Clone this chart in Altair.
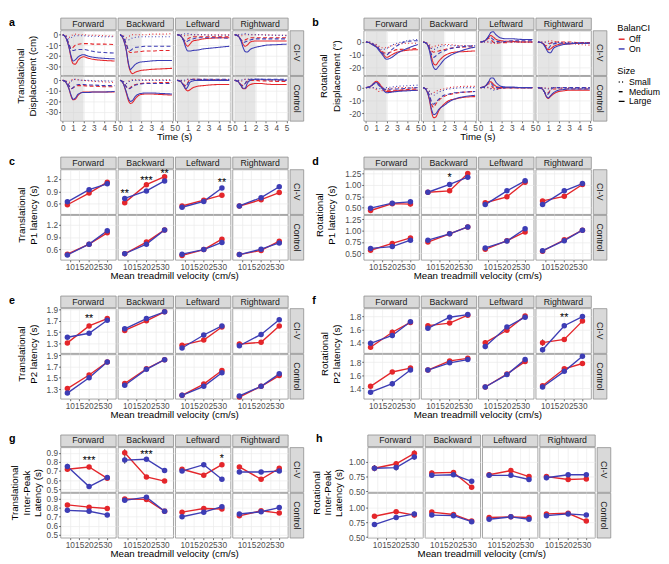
import altair as alt
import pandas as pd

FONT = "Liberation Sans"
RED = "#e4262b"
BLUE = "#3d3db5"
GRID = "#ebebeb"
BORDER = "#8c8c8c"
STRIP_FILL = "#d9d9d9"
SHADE = "#cfcfcf"

DIRS = ["Forward", "Backward", "Leftward", "Rightward"]
GROUPS = ["CI-V", "Control"]
CONDS = ["Off", "On"]
SIZES = ["Small", "Medium", "Large"]

TIME_S = [0, 0.3, 0.6, 0.8, 1.0, 1.2, 1.5, 2.0, 2.5, 3.0, 4.0, 5.0]
TIME_TICKS = [0, 1, 2, 3, 4, 5]
VELOCITY = [8.7, 20.3, 30.0]
VEL_TICKS = [10, 15, 20, 25, 30]
SHADE_WINDOW = [0, 2]

# ---- panel a: translational displacement (cm); per cond: (Small, Medium, Large)
trans_disp = {
    ("CI-V", "Forward"): {
        "Off": ([0, -1, -2.5, -1, 0, 0.5, 0, 0, -0.5, -0.5, -1, -1.5],
                [0, -2, -9, -13.5, -12, -10, -9, -8.5, -8.5, -9, -9, -9.5],
                [0, -3, -12, -22, -27.5, -28, -24, -21, -22.5, -23.5, -24.5, -25]),
        "On": ([0, -1.5, -4, -3, -1.5, -1, -1, -1, -1.5, -1.5, -2, -2],
               [0, -2, -9, -14, -15, -14.5, -14, -14, -15, -16, -17, -17.5],
               [0, -3, -12, -20, -25, -24, -21, -19, -20.5, -21.5, -22.5, -23])},
    ("CI-V", "Backward"): {
        "Off": ([0, -1, -3, -2, -0.5, 0, 0, 0, 0, 0.5, 0.5, 1],
                [0, -2, -9, -15, -17, -17, -16.5, -16, -15.5, -15.5, -15, -15],
                [0, -4, -15, -28, -35, -37, -35.5, -34, -33.5, -33, -32.5, -32]),
        "On": ([0, -1.5, -4.5, -5, -4, -3, -2.5, -2, -2, -2, -2, -2],
               [0, -2, -9, -14, -15, -13.5, -12, -11.5, -11, -11, -11, -11],
               [0, -4, -15, -27, -33, -31, -28, -26, -25.5, -25, -24.5, -24.5])},
    ("CI-V", "Leftward"): {
        "Off": ([0, 0, -1, -1, -0.5, 0, 0, 0, 0, 0, 0, 0],
                [0, -1, -5, -5.5, -4, -3, -2, -2, -2, -2, -2, -2],
                [0, -1, -5, -9, -11, -9, -6, -5, -4, -3.5, -3, -3]),
        "On": ([0, 0, 0.5, 1, 1, 0.5, 0, 0, 0, -0.5, -0.5, -0.5],
               [0, -1, -5, -7, -6, -5, -4, -3, -3, -3, -3, -3.5],
               [0, -1, -6, -12, -15.5, -15.5, -15, -14.5, -13.5, -13, -12, -11])},
    ("CI-V", "Rightward"): {
        "Off": ([0, 0, -1, -1, 0, 0, 0, 0, 0, 0, -0.5, -0.5],
                [0, -1, -5, -6, -5, -4, -3, -3, -3, -3, -3, -3],
                [0, -1, -5, -9, -11, -10, -7, -6, -6, -6, -6, -6]),
        "On": ([0, 0, 0, 1, 1, 0.5, 0, 0, 0, -0.5, -0.5, -1],
               [0, -1, -5, -7.5, -7, -6, -5, -4, -4, -4, -4, -4],
               [0, -1, -6, -12, -16, -16.5, -14, -12, -11, -10, -9.5, -9])},
    ("Control", "Forward"): {
        "Off": ([0, -0.5, -2, -0.5, 1, 1, 0.5, 0, -0.5, -1, -1.5, -2],
                [0, -1, -5, -8, -7, -6, -5, -5, -5.5, -5.5, -6, -6],
                [0, -2, -8, -15, -18.5, -18, -14, -11, -11, -11, -11, -11]),
        "On": ([0, -1, -3, -1, 0.5, 1, 0.5, 0, 0, -0.5, -0.5, -1],
               [0, -1, -5, -8, -7, -5, -4, -4, -4.5, -4.5, -5, -5],
               [0, -2, -8, -14, -18, -17, -13, -11.5, -11.5, -11, -11, -10.5])},
    ("Control", "Backward"): {
        "Off": ([0, -1, -3, -1, 0, 0.5, 0.5, 0.5, 0.5, 0.5, 0.5, 0.5],
                [0, -1.5, -6, -8, -7, -5, -4, -3, -2.5, -2.5, -2, -2],
                [0, -3, -12, -19, -22, -21, -17, -13.5, -13, -13, -13.5, -14]),
        "On": ([0, -1, -3, -1.5, -0.5, 0, 0, 0, 0, 0, 0, 0],
               [0, -1.5, -6, -8, -7.5, -6, -4.5, -3.5, -3, -3, -3, -3],
               [0, -3, -11, -17, -20, -19, -15, -12.5, -12, -12, -12.5, -13])},
    ("Control", "Leftward"): {
        "Off": ([0, 0, -1, 0, 1, 1, 1, 1, 1, 1, 0.5, 0.5],
                [0, -1, -4, -5, -2, 0.5, 1, 1, 0.5, 0.5, 0.5, 0.5],
                [0, -1, -5, -8.5, -10, -9, -7, -5.5, -5, -4.5, -4, -4]),
        "On": ([0, 0, 0, 0.5, 1, 1, 0.5, 0.5, 0.5, 0.5, 0.5, 0.5],
               [0, -1, -4.5, -6, -3, 0, 1, 1, 1, 1, 1, 1],
               [0, -1, -5, -8, -6, -2, -0.5, 0, 0, 0, 0, 0])},
    ("Control", "Rightward"): {
        "Off": ([0, 0, -1, 0, 1, 1, 1, 0.5, 0.5, 0.5, 0, 0],
                [0, -1, -4, -5, -3, -1, 0, 0, -0.5, -0.5, -1, -1],
                [0, -1, -5, -8, -8, -6, -4, -3, -3, -3.5, -4, -4]),
        "On": ([0, 0, 0, 1, 1, 1, 1, 1, 1, 1, 0.5, 0.5],
               [0, -1, -4.5, -5.5, -3, 0, 1, 1, 1, 1, 1, 1],
               [0, -1, -5, -7.5, -7.5, -3, 0, 1, 1, 0.5, 0.5, 0])},
}

# ---- panel b: rotational displacement (deg)
rot_disp = {
    ("CI-V", "Forward"): {
        "Off": ([0, 0, -1, -1.5, -2, -3, -4.5, -4.5, -3, -2, -1, -1],
                [0, -0.5, -1.5, -2.5, -3.5, -5, -7, -9, -7.5, -6, -5.5, -5],
                [0, -0.5, -2, -2.5, -3.5, -5, -8, -12, -10, -8, -6.5, -6]),
        "On": ([0, 0, -1, -1.5, -2.5, -4, -6, -5, -2.5, -1, 1, 2],
               [0, -0.5, -1.5, -2.5, -3.5, -5, -8, -10, -6, -3, 0.5, 1],
               [0, -0.5, -2, -3, -4, -6, -9, -13.5, -12, -9, -5, -2])},
    ("CI-V", "Backward"): {
        "Off": ([0, -0.5, -2, -4, -4, -3, -2.5, -2, -2, -2.5, -3, -3],
                [0, -1, -4, -7, -8, -7.5, -7, -6, -5, -4.5, -4, -4],
                [0, -1, -6, -12, -17, -18, -15, -11, -9, -8, -7.5, -7]),
        "On": ([0, -1, -3, -5, -6, -5, -4, -3, -3, -3, -3, -3],
               [0, -1, -5, -10, -12, -11, -9, -7, -5.5, -4.5, -3.5, -3],
               [0, -1, -7, -15, -20, -21.5, -19, -14, -11, -9, -6, -4])},
    ("CI-V", "Leftward"): {
        "Off": ([0, 0, 0, -0.5, -1, -1, -0.5, 0, 0, 0, 0, 0],
                [0, 0.5, 2, 3, 2, 0, -1, -0.5, -0.5, 0, 0, 0],
                [0, 0.5, 2, 4, 5, 4, 2, 1, 0.5, 0.5, 0, 0]),
        "On": ([0, 0, 0.5, 0.5, 0, -0.5, 0, 0, 0, 0, 0, 0],
               [0, 0.5, 2.5, 4, 3.5, 2, 0.5, 0, 0.5, 1, 1, 1],
               [0, 0.5, 2.5, 5, 7.5, 8, 5.5, 3, 2.5, 2.5, 2, 2])},
    ("CI-V", "Rightward"): {
        "Off": ([0, 0, 0, 0, 0.5, 1, 0.5, 0, -0.5, -1, -2, -2.5],
                [0, -0.5, -2, -3, -2, -1, 0, 0, 0, 0, -0.5, -0.5],
                [0, -0.5, -2, -4.5, -6, -5.5, -3.5, -2, -1.5, -1.5, -1, -1]),
        "On": ([0, 0, 0, -0.5, -1, -1, -0.5, -0.5, -0.5, -0.5, -0.5, -0.5],
               [0, -0.5, -2.5, -4.5, -5, -3, -1.5, -1, -1, -1, -1, -1],
               [0, -0.5, -2.5, -5.5, -8, -8.5, -5, -3, -2, -1.5, -1, -1])},
    ("Control", "Forward"): {
        "Off": ([0, 0, 0, -0.5, -1.5, -3, -2.5, -1, -0.5, 0, 0, 0],
                [0, 0.5, 2, 3.5, 4, 3, 0, -2, -2, -2, -1.5, -1],
                [0, 0.5, 2, 4, 5, 4, 1, -3, -3, -2.5, -2, -2]),
        "On": ([0, 0, 0, 0, -0.5, -1, -0.5, 0, 0.5, 1, 1.5, 2],
               [0, 0.5, 2, 3, 3, 2, 0, -1.5, -1, -1, -0.5, 0],
               [0, 0.5, 2, 3.5, 4, 3, 0, -4, -3.5, -3, -2.5, -2])},
    ("Control", "Backward"): {
        "Off": ([0, -0.5, -3, -5, -4, -3, -2, -1, 0, 0.5, 1, 1],
                [0, -1.5, -7, -13, -15.5, -13, -10, -7, -5.5, -4.5, -3.5, -3],
                [0, -2, -10, -19, -23.5, -23, -18, -13, -10, -9, -7.5, -7]),
        "On": ([0, -0.5, -3, -5, -6, -5, -3.5, -2, -1, -0.5, 0, 0],
               [0, -1.5, -6, -11, -13, -11.5, -9, -6, -5, -4, -3.5, -3],
               [0, -2, -9, -17, -21, -20.5, -17, -14, -11, -9, -7, -6])},
    ("Control", "Leftward"): {
        "Off": ([0, 0, 0, 0, -0.5, -1, -1, -0.5, 0, 0, 0, 0],
                [0, 0.5, 2, 3, 2, 0, -1, -0.5, 0, 0, 0, 0],
                [0, 0.5, 2.5, 4.5, 4.5, 3, 1, 0, 0, 0, 0, 0]),
        "On": ([0, 0, 0.5, 0, -1, -2, -1.5, -0.5, 0, 0, 0, 0],
               [0, 0.5, 2.5, 4, 3.5, 1.5, 0, 0, 0, 0, 0, 0],
               [0, 0.5, 2.5, 5, 7.5, 7.5, 4, 1, 0.5, 0.5, 0, 0])},
    ("Control", "Rightward"): {
        "Off": ([0, 0, 0, -0.5, -0.5, 0, 0, 0, 0, 0, 0, 0],
                [0, -0.5, -3, -5, -4, -2, -1, -1, -1, -1, -1, -1],
                [0, -0.5, -3, -7, -8.5, -7, -5, -3, -2.5, -2, -2, -2]),
        "On": ([0, 0, 0, -1, -1, -0.5, 0, 0, -0.5, -0.5, -0.5, -0.5],
               [0, -0.5, -3, -5.5, -5, -2, 0, 0, 0, 0, 0, 0],
               [0, -0.5, -3, -6.5, -8, -6.5, -4, -2, -1.5, -1, -1, -1])},
}

# ---- latency panels: (Off, On), one value per velocity
p1_trans = {
    ("CI-V", "Forward"): ([0.58, 0.86, 1.12], [0.65, 0.94, 1.08]),
    ("CI-V", "Backward"): ([0.63, 1.06, 1.25], [0.73, 0.91, 1.15]),
    ("CI-V", "Leftward"): ([0.55, 0.69, 0.81], [0.52, 0.66, 0.98]),
    ("CI-V", "Rightward"): ([0.55, 0.70, 0.87], [0.55, 0.75, 1.01]),
    ("Control", "Forward"): ([0.49, 0.73, 1.00], [0.47, 0.73, 1.05]),
    ("Control", "Backward"): ([0.50, 0.78, 1.07], [0.50, 0.73, 1.07]),
    ("Control", "Leftward"): ([0.46, 0.60, 0.85], [0.49, 0.60, 0.77]),
    ("Control", "Rightward"): ([0.48, 0.58, 0.80], [0.48, 0.61, 0.76]),
}
p1_trans_se = {
    ("CI-V", "Forward"): ([0.02, 0.02, 0.03], [0.02, 0.02, 0.02]),
    ("CI-V", "Backward"): ([0.02, 0.02, 0.02], [0.02, 0.02, 0.02]),
    ("CI-V", "Leftward"): ([0.02, 0.02, 0.02], [0.02, 0.02, 0.02]),
    ("CI-V", "Rightward"): ([0.02, 0.02, 0.02], [0.02, 0.02, 0.02]),
    ("Control", "Forward"): ([0.02, 0.02, 0.02], [0.02, 0.02, 0.02]),
    ("Control", "Backward"): ([0.02, 0.02, 0.02], [0.02, 0.02, 0.02]),
    ("Control", "Leftward"): ([0.02, 0.02, 0.02], [0.02, 0.02, 0.02]),
    ("Control", "Rightward"): ([0.02, 0.02, 0.02], [0.02, 0.02, 0.02]),
}
p1_rot = {
    ("CI-V", "Forward"): ([0.44, 0.59, 0.58], [0.49, 0.60, 0.63]),
    ("CI-V", "Backward"): ([0.84, 0.87, 1.25], [0.84, 1.01, 1.17]),
    ("CI-V", "Leftward"): ([0.61, 0.74, 1.06], [0.57, 0.87, 1.09]),
    ("CI-V", "Rightward"): ([0.65, 0.75, 1.01], [0.57, 0.87, 1.03]),
    ("Control", "Forward"): ([0.57, 0.72, 0.84], [0.61, 0.65, 0.79]),
    ("Control", "Backward"): ([0.75, 0.93, 1.08], [0.79, 0.93, 1.08]),
    ("Control", "Leftward"): ([0.59, 0.78, 0.97], [0.62, 0.77, 1.04]),
    ("Control", "Rightward"): ([0.55, 0.80, 1.01], [0.56, 0.78, 1.01]),
}
p1_rot_se = {
    ("CI-V", "Forward"): ([0.03, 0.05, 0.05], [0.03, 0.05, 0.05]),
    ("CI-V", "Backward"): ([0.02, 0.02, 0.03], [0.02, 0.02, 0.03]),
    ("CI-V", "Leftward"): ([0.03, 0.02, 0.02], [0.03, 0.02, 0.02]),
    ("CI-V", "Rightward"): ([0.02, 0.02, 0.02], [0.02, 0.02, 0.02]),
    ("Control", "Forward"): ([0.03, 0.02, 0.02], [0.03, 0.02, 0.02]),
    ("Control", "Backward"): ([0.02, 0.02, 0.02], [0.02, 0.02, 0.02]),
    ("Control", "Leftward"): ([0.02, 0.02, 0.02], [0.02, 0.02, 0.02]),
    ("Control", "Rightward"): ([0.02, 0.02, 0.02], [0.02, 0.02, 0.02]),
}
p2_trans = {
    ("CI-V", "Forward"): ([1.31, 1.61, 1.74], [1.41, 1.48, 1.71]),
    ("CI-V", "Backward"): ([1.53, 1.70, 1.86], [1.56, 1.74, 1.86]),
    ("CI-V", "Leftward"): ([1.27, 1.36, 1.59], [1.22, 1.45, 1.61]),
    ("CI-V", "Rightward"): ([1.29, 1.32, 1.61], [1.26, 1.46, 1.72]),
    ("Control", "Forward"): ([1.31, 1.55, 1.78], [1.23, 1.50, 1.78]),
    ("Control", "Backward"): ([1.40, 1.66, 1.82], [1.37, 1.65, 1.82]),
    ("Control", "Leftward"): ([1.19, 1.39, 1.63], [1.19, 1.35, 1.59]),
    ("Control", "Rightward"): ([1.16, 1.35, 1.54], [1.18, 1.35, 1.57]),
}
p2_trans_se = {
    ("CI-V", "Forward"): ([0.03, 0.02, 0.02], [0.02, 0.02, 0.02]),
    ("CI-V", "Backward"): ([0.02, 0.02, 0.02], [0.02, 0.02, 0.02]),
    ("CI-V", "Leftward"): ([0.03, 0.03, 0.02], [0.03, 0.03, 0.02]),
    ("CI-V", "Rightward"): ([0.04, 0.03, 0.02], [0.03, 0.02, 0.02]),
    ("Control", "Forward"): ([0.02, 0.02, 0.02], [0.02, 0.02, 0.02]),
    ("Control", "Backward"): ([0.02, 0.02, 0.02], [0.02, 0.02, 0.02]),
    ("Control", "Leftward"): ([0.02, 0.02, 0.02], [0.02, 0.02, 0.02]),
    ("Control", "Rightward"): ([0.02, 0.02, 0.02], [0.02, 0.02, 0.02]),
}
p2_rot = {
    ("CI-V", "Forward"): ([1.33, 1.56, 1.71], [1.39, 1.51, 1.72]),
    ("CI-V", "Backward"): ([1.66, 1.70, 1.82], [1.62, 1.79, 1.83]),
    ("CI-V", "Leftward"): ([1.40, 1.59, 1.81], [1.34, 1.64, 1.79]),
    ("CI-V", "Rightward"): ([1.40, 1.45, 1.73], [1.29, 1.66, 1.80]),
    ("Control", "Forward"): ([1.43, 1.65, 1.71], [1.34, 1.47, 1.68]),
    ("Control", "Backward"): ([1.68, 1.82, 1.86], [1.68, 1.79, 1.84]),
    ("Control", "Leftward"): ([1.42, 1.62, 1.81], [1.42, 1.61, 1.84]),
    ("Control", "Rightward"): ([1.44, 1.70, 1.78], [1.42, 1.66, 1.89]),
}
p2_rot_se = {
    ("CI-V", "Forward"): ([0.04, 0.04, 0.03], [0.04, 0.04, 0.03]),
    ("CI-V", "Backward"): ([0.03, 0.03, 0.02], [0.03, 0.03, 0.02]),
    ("CI-V", "Leftward"): ([0.04, 0.03, 0.03], [0.04, 0.03, 0.02]),
    ("CI-V", "Rightward"): ([0.05, 0.03, 0.03], [0.04, 0.02, 0.02]),
    ("Control", "Forward"): ([0.03, 0.03, 0.03], [0.03, 0.04, 0.03]),
    ("Control", "Backward"): ([0.02, 0.02, 0.02], [0.02, 0.02, 0.02]),
    ("Control", "Leftward"): ([0.02, 0.02, 0.02], [0.02, 0.02, 0.02]),
    ("Control", "Rightward"): ([0.02, 0.02, 0.02], [0.02, 0.02, 0.02]),
}
ipl_trans = {
    ("CI-V", "Forward"): ([0.72, 0.745, 0.62], [0.75, 0.53, 0.63]),
    ("CI-V", "Backward"): ([0.90, 0.635, 0.59], [0.82, 0.83, 0.705]),
    ("CI-V", "Leftward"): ([0.72, 0.655, 0.77], [0.70, 0.77, 0.61]),
    ("CI-V", "Rightward"): ([0.745, 0.61, 0.73], [0.69, 0.69, 0.70]),
    ("Control", "Forward"): ([0.83, 0.805, 0.79], [0.77, 0.76, 0.72]),
    ("Control", "Backward"): ([0.895, 0.89, 0.76], [0.88, 0.915, 0.76]),
    ("Control", "Leftward"): ([0.75, 0.79, 0.785], [0.70, 0.75, 0.81]),
    ("Control", "Rightward"): ([0.71, 0.765, 0.74], [0.73, 0.755, 0.80]),
}
ipl_trans_se = {
    ("CI-V", "Forward"): ([0.03, 0.02, 0.02], [0.03, 0.02, 0.02]),
    ("CI-V", "Backward"): ([0.04, 0.02, 0.02], [0.04, 0.02, 0.02]),
    ("CI-V", "Leftward"): ([0.02, 0.02, 0.02], [0.02, 0.02, 0.02]),
    ("CI-V", "Rightward"): ([0.02, 0.02, 0.02], [0.02, 0.02, 0.02]),
    ("Control", "Forward"): ([0.02, 0.02, 0.02], [0.02, 0.02, 0.015]),
    ("Control", "Backward"): ([0.02, 0.02, 0.015], [0.02, 0.02, 0.015]),
    ("Control", "Leftward"): ([0.02, 0.02, 0.02], [0.02, 0.02, 0.02]),
    ("Control", "Rightward"): ([0.02, 0.02, 0.02], [0.02, 0.02, 0.02]),
}
ipl_rot = {
    ("CI-V", "Forward"): ([0.89, 0.965, 1.14], [0.89, 0.90, 1.08]),
    ("CI-V", "Backward"): ([0.81, 0.82, 0.57], [0.77, 0.78, 0.67]),
    ("CI-V", "Leftward"): ([0.78, 0.85, 0.75], [0.77, 0.77, 0.70]),
    ("CI-V", "Rightward"): ([0.75, 0.70, 0.71], [0.73, 0.78, 0.78]),
    ("Control", "Forward"): ([0.85, 0.925, 0.87], [0.71, 0.83, 0.89]),
    ("Control", "Backward"): ([0.92, 0.88, 0.77], [0.87, 0.86, 0.76]),
    ("Control", "Leftward"): ([0.83, 0.84, 0.83], [0.80, 0.84, 0.80]),
    ("Control", "Rightward"): ([0.89, 0.90, 0.77], [0.86, 0.89, 0.87]),
}
ipl_rot_se = {
    ("CI-V", "Forward"): ([0.05, 0.04, 0.05], [0.05, 0.05, 0.05]),
    ("CI-V", "Backward"): ([0.04, 0.04, 0.03], [0.04, 0.03, 0.03]),
    ("CI-V", "Leftward"): ([0.04, 0.03, 0.03], [0.04, 0.03, 0.03]),
    ("CI-V", "Rightward"): ([0.04, 0.03, 0.03], [0.04, 0.03, 0.03]),
    ("Control", "Forward"): ([0.03, 0.03, 0.04], [0.03, 0.04, 0.04]),
    ("Control", "Backward"): ([0.03, 0.03, 0.03], [0.03, 0.03, 0.03]),
    ("Control", "Leftward"): ([0.03, 0.02, 0.02], [0.03, 0.02, 0.02]),
    ("Control", "Rightward"): ([0.03, 0.02, 0.02], [0.03, 0.02, 0.02]),
}

# significance marks: (panel, group, direction, velocity index, y, label)
STARS = [
    ("c", "CI-V", "Backward", 0, 0.90, "**"),
    ("c", "CI-V", "Backward", 1, 1.22, "***"),
    ("c", "CI-V", "Backward", 2, 1.38, "**"),
    ("c", "CI-V", "Leftward", 2, 1.16, "**"),
    ("d", "CI-V", "Backward", 1, 1.21, "*"),
    ("e", "CI-V", "Forward", 1, 1.79, "**"),
    ("f", "CI-V", "Rightward", 1, 1.82, "**"),
    ("g", "CI-V", "Forward", 1, 0.84, "***"),
    ("g", "CI-V", "Backward", 1, 0.91, "***"),
    ("g", "CI-V", "Leftward", 2, 0.865, "*"),
]

PANELS = [
    dict(letter="a", kind="ts", data=trans_disp, dom=[-38.5, 4], ticks=[-30, -20, -10, 0],
         title=["Translational", "Displacement (cm)"], lh=12.5, tpad=8),
    dict(letter="b", kind="ts", data=rot_disp, dom=[-26, 9], ticks=[-20, -10, 0],
         title=["Rotational", "Displacement (°)"], lh=12.5, tpad=8),
    dict(letter="c", kind="lat", data=p1_trans, se=p1_trans_se, dom=[0.355, 1.425],
         ticks=[0.6, 0.9, 1.2], fmt=".1f", title=["Translational", "P1 latency (s)"], lh=12.5, tpad=8),
    dict(letter="d", kind="lat", data=p1_rot, se=p1_rot_se, dom=[0.36, 1.34],
         ticks=[0.5, 0.75, 1.0, 1.25], fmt=".2f", title=["Rotational", "P1 latency (s)"], lh=12.5, tpad=8),
    dict(letter="e", kind="lat", data=p2_trans, se=p2_trans_se, dom=[1.13, 1.92],
         ticks=[1.3, 1.5, 1.7, 1.9], fmt=".1f", title=["Translational", "P2 latency (s)"], lh=12.5, tpad=8),
    dict(letter="f", kind="lat", data=p2_rot, se=p2_rot_se, dom=[1.24, 1.925],
         ticks=[1.4, 1.6, 1.8], fmt=".1f", title=["Rotational", "P2 latency (s)"], lh=12.5, tpad=8),
    dict(letter="g", kind="lat", data=ipl_trans, se=ipl_trans_se, dom=[0.47, 0.96],
         ticks=[0.5, 0.6, 0.7, 0.8, 0.9], fmt=".1f",
         title=["Translational", "Inter-Peak", "Latency (s)"], lh=11.5, tpad=4),
    dict(letter="h", kind="lat", data=ipl_rot, se=ipl_rot_se, dom=[0.49, 1.24],
         ticks=[0.5, 0.75, 1.0], fmt=".2f",
         title=["Rotational", "Inter-Peak", "Latency (s)"], lh=11.5, tpad=5),
]

# ---------------- tables ----------------
ts_rows = []
for p in PANELS:
    if p["kind"] != "ts":
        continue
    for (g, d), by_cond in p["data"].items():
        for cond in CONDS:
            for size, series in zip(SIZES, by_cond[cond]):
                for t, v in zip(TIME_S, series):
                    ts_rows.append(dict(key=f"{p['letter']}|{g}|{d}", cond=cond, size=size, t=t, v=v))
ts_df = pd.DataFrame(ts_rows)

lat_rows = []
for p in PANELS:
    if p["kind"] != "lat":
        continue
    for (g, d), (off, on) in p["data"].items():
        se_off, se_on = p["se"][(g, d)]
        for cond, vals, errs in (("Off", off, se_off), ("On", on, se_on)):
            for vel, v, e in zip(VELOCITY, vals, errs):
                lat_rows.append(dict(key=f"{p['letter']}|{g}|{d}", cond=cond, vel=vel, v=v,
                                     lo=v - e, hi=v + e))
lat_df = pd.DataFrame(lat_rows)

star_df = pd.DataFrame([dict(key=f"{a}|{g}|{d}", vel=VELOCITY[i], y=y, label=s)
                        for a, g, d, i, y, s in STARS])
STAR_KEYS = set(star_df["key"])
shade_df = pd.DataFrame({"start": [SHADE_WINDOW[0]], "end": [SHADE_WINDOW[1]]})
labels_df = pd.DataFrame({"lab": DIRS + GROUPS + [p["letter"] for p in PANELS]})

W, H, SH, RW = 57, 46, 12, 14
LETTER_X = -53
PLOT_VIEW = alt.ViewBackground(fill="white", stroke=BORDER, strokeWidth=0.8)
STRIP_VIEW = alt.ViewBackground(fill=STRIP_FILL, stroke=BORDER, strokeWidth=0.8)

COLOR_SCALE = alt.Scale(domain=CONDS, range=[RED, BLUE])
DASH_SCALE = alt.Scale(domain=SIZES, range=[[1, 2.5], [4, 2.5], [1, 0]])

LEG_X = 573
COLOR_LEGEND = alt.Legend(title="BalanCI", orient="none", legendX=LEG_X, legendY=6, direction="vertical",
                          titleFontSize=9.5, titleFontWeight="normal", titleColor="black",
                          labelFontSize=9, labelColor="black", symbolType="stroke",
                          symbolSize=36, symbolStrokeWidth=1.5, titlePadding=2, rowPadding=0,
                          labelOffset=3, padding=0)
SIZE_LEGEND = alt.Legend(title="Size", orient="none", legendX=LEG_X, legendY=50, direction="vertical",
                         titleFontSize=9.5, titleFontWeight="normal", titleColor="black",
                         labelFontSize=9, labelColor="black", symbolType="stroke",
                         symbolSize=36, symbolStrokeWidth=1.4, symbolStrokeColor="black",
                         titlePadding=2, rowPadding=0, labelOffset=3, padding=0)


def y_axis(p, first_col, top):
    common = dict(values=p["ticks"], grid=True, gridColor=GRID, gridWidth=0.7, domain=False)
    if not first_col:
        return alt.Axis(labels=False, ticks=False, title="", **common)
    kw = dict(labels=True, ticks=True, tickSize=2, tickColor="#333333", tickWidth=0.7,
              labelFontSize=8.5, labelColor="#4d4d4d", labelPadding=1, labelOverlap=False, **common)
    if p["kind"] == "ts":
        kw["labelExpr"] = "'' + datum.value"
    else:
        kw["format"] = p["fmt"]
    if top:
        kw.update(title=p["title"], titleY=H + 0.5, titlePadding=p["tpad"], titleFontSize=10,
                  titleFontWeight="normal", titleColor="black", titleLineHeight=p["lh"])
    else:
        kw["title"] = ""
    return alt.Axis(**kw)


def x_axis(p, col, bottom):
    ticks = TIME_TICKS if p["kind"] == "ts" else VEL_TICKS
    common = dict(values=ticks, grid=True, gridColor=GRID, gridWidth=0.7, domain=False)
    if not bottom:
        return alt.Axis(labels=False, ticks=False, title="", **common)
    kw = dict(labels=True, ticks=True, tickSize=2, tickColor="#333333", tickWidth=0.7,
              labelFontSize=8.5, labelColor="#4d4d4d", labelPadding=1, labelOverlap=False,
              labelFlush=False, format="d", **common)
    if col == 0:
        kw.update(title="Time (s)" if p["kind"] == "ts" else "Mean treadmill velocity (cm/s)",
                  titleX=(4 * W + 3 * 2) / 2, titlePadding=0, titleFontSize=10,
                  titleFontWeight="normal", titleColor="black")
    else:
        kw["title"] = ""
    return alt.Axis(**kw)


def ts_cell(p, g, d, col, row):
    key = f"{p['letter']}|{g}|{d}"
    xax = x_axis(p, col, row == 1)
    yax = y_axis(p, col == 0, row == 0)
    xsc = alt.Scale(domain=[-0.22, 5.12], nice=False, zero=False)
    ysc = alt.Scale(domain=p["dom"], nice=False, zero=False)
    shade = alt.Chart(shade_df).mark_rect(color=SHADE, opacity=0.55).encode(
        x=alt.X("start:Q", scale=xsc, axis=xax), x2="end:Q")
    lines = alt.Chart(ts_df).transform_filter(alt.datum.key == key).mark_line(
        strokeWidth=1.1, interpolate="monotone").encode(
        x=alt.X("t:Q", scale=xsc, axis=xax),
        y=alt.Y("v:Q", scale=ysc, axis=yax),
        color=alt.Color("cond:N", scale=COLOR_SCALE, legend=COLOR_LEGEND),
        strokeDash=alt.StrokeDash("size:N", scale=DASH_SCALE, legend=SIZE_LEGEND),
    )
    return alt.layer(shade, lines).properties(width=W, height=H, view=PLOT_VIEW)


def lat_cell(p, g, d, col, row):
    key = f"{p['letter']}|{g}|{d}"
    xax = x_axis(p, col, row == 1)
    yax = y_axis(p, col == 0, row == 0)
    xsc = alt.Scale(domain=[5, 34.6], nice=False, zero=False)
    ysc = alt.Scale(domain=p["dom"], nice=False, zero=False)
    X = alt.X("vel:Q", scale=xsc, axis=xax)
    base = alt.Chart(lat_df).transform_filter(alt.datum.key == key)
    color = alt.Color("cond:N", scale=COLOR_SCALE, legend=None)
    err = base.mark_rule(color="#2b2b2b", strokeWidth=0.9).encode(
        x=X, y=alt.Y("lo:Q", scale=ysc, axis=yax), y2="hi:Q")
    line = base.mark_line(strokeWidth=1.4).encode(x=X, y=alt.Y("v:Q", scale=ysc, axis=yax), color=color)
    pts = base.mark_circle(size=32, opacity=1).encode(x=X, y=alt.Y("v:Q", scale=ysc, axis=yax), color=color)
    layers = [err, line, pts]
    if key in STAR_KEYS:
        layers.append(alt.Chart(star_df).transform_filter(alt.datum.key == key).mark_text(
            fontSize=11, dy=3, color="black").encode(
            x=X, y=alt.Y("y:Q", scale=ysc, axis=yax), text="label:N"))
    return alt.layer(*layers).properties(width=W, height=H, view=PLOT_VIEW)


def strip(text, w, h, angle=0, letter=None):
    layers = [alt.Chart(labels_df).transform_filter(alt.datum.lab == text).mark_text(
        fontSize=9, color="#1a1a1a", angle=angle).encode(text="lab:N")]
    if letter:
        layers.append(alt.Chart(labels_df).transform_filter(alt.datum.lab == letter).mark_text(
            fontSize=11, fontWeight="bold", color="black", align="left", baseline="top").encode(
            text="lab:N", x=alt.value(LETTER_X), y=alt.value(-1)))
    return alt.layer(*layers).properties(width=w, height=h, view=STRIP_VIEW)


def empty_cell():
    return alt.Chart(labels_df).transform_filter("false").mark_text().encode(
        text="lab:N").properties(width=RW, height=SH, view=alt.ViewBackground(strokeWidth=0))


def panel(p):
    cells = []
    for j, d in enumerate(DIRS):
        cells.append(strip(d, W, SH, letter=p["letter"] if j == 0 else None))
    cells.append(empty_cell())
    for i, g in enumerate(GROUPS):
        for j, d in enumerate(DIRS):
            if p["kind"] == "ts":
                cells.append(ts_cell(p, g, d, j, i))
            else:
                cells.append(lat_cell(p, g, d, j, i))
        cells.append(strip(g, RW, H, angle=90))
    return alt.ConcatChart(concat=cells, columns=5, spacing={"row": 1, "column": 2}, bounds="flush")


rows = []
for k in range(4):
    left, right = PANELS[2 * k], PANELS[2 * k + 1]
    rows.append(alt.HConcatChart(hconcat=[panel(left), panel(right)], spacing=7))

chart = alt.VConcatChart(vconcat=rows, spacing=13).properties(
    padding=0, background="white"
).configure(font=FONT).configure_view(strokeWidth=0)

chart.save("out.html", embed_options={"renderer": "svg", "actions": False})
